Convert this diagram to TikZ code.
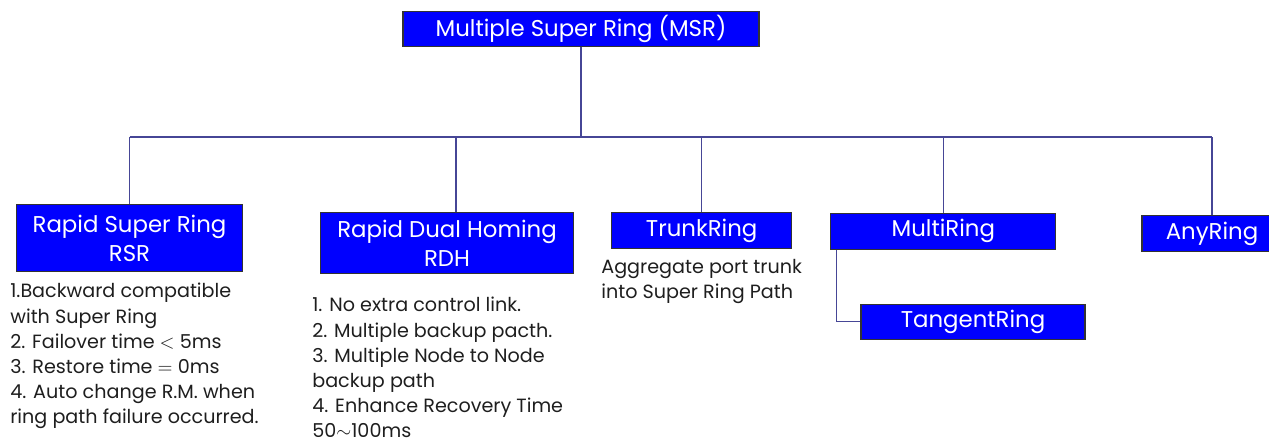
\documentclass[tikz,border=0pt]{standalone}
\usepackage{fontspec}
\setmainfont{Poppins}
\usepackage{tikz}

\definecolor{boxblue}{RGB}{0,0,255}
\definecolor{linkcol}{RGB}{70,70,150}
\definecolor{notecol}{RGB}{30,30,30}

\tikzset{
  box/.style={draw=black!80, line width=0.6pt, fill=boxblue, text=white,
    inner sep=0pt, align=center, font=\fontsize{13pt}{16.8pt}\selectfont},
  note/.style={anchor=north west, inner sep=0pt, align=left, text=notecol,
    font=\fontsize{10.9pt}{14.35pt}\selectfont},
  link/.style={draw=linkcol, line width=0.7pt}
}

\begin{document}
\begin{tikzpicture}[x=0.02cm, y=-0.02cm]
\useasboundingbox (0,0) rectangle (1269,439);
\clip (0,0) rectangle (1269,439);

% top box
\node [box, minimum width=356*0.02cm, minimum height=35*0.02cm] (msr) at (581,29.3) {Multiple Super Ring (MSR)};

% second row
\node [box, minimum width=225.6*0.02cm, minimum height=66.7*0.02cm] (rsr) at (129.5,238.3) {Rapid Super Ring\\RSR};
\node [box, minimum width=252.6*0.02cm, minimum height=61.3*0.02cm] (rdh) at (447,243.3) {Rapid Dual Homing\\RDH};
\node [box, minimum width=180*0.02cm, minimum height=36.3*0.02cm] (trunk) at (701.7,230.8) {TrunkRing};
\node [box, minimum width=225.3*0.02cm, minimum height=35.7*0.02cm] (multi) at (943.3,231.2) {MultiRing};
\node [box, minimum width=140*0.02cm, minimum height=36*0.02cm] (any) at (1212,233.7) {AnyRing};
\node [box, minimum width=224*0.02cm, minimum height=35.3*0.02cm] (tangent) at (973,321.7) {TangentRing};

% notes
\node [note] (rsrnote) at (10,283) {1.Backward compatible\\with Super Ring\\2. Failover time $<$ 5ms\\3. Restore time $=$ 0ms\\4. Auto change R.M. when\\ring path failure occurred.};
\node [note] (rdhnote) at (312,297) {1. No extra control link.\\2. Multiple backup pacth.\\3. Multiple Node to Node\\backup path\\4. Enhance Recovery Time\\50$\sim$100ms};
\node [note] (trunknote) at (601,259) {Aggregate port trunk\\into Super Ring Path};

% connectors
\coordinate (bar) at (583,137);
\draw [link] (msr.south) -- (msr.south |- bar);
\draw [link] (rsr.north |- bar) -- (any.north |- bar);
\foreach \n in {rsr,trunk,multi,any}
  \draw [link] (\n.north) -- (\n.north |- bar);
\draw [link] (rdh.north) ++(9,0) coordinate (rdhtop) -- (rdhtop |- bar);
\draw [link] (multi.south west) ++(6,0) |- (tangent.west);

\end{tikzpicture}
\end{document}
